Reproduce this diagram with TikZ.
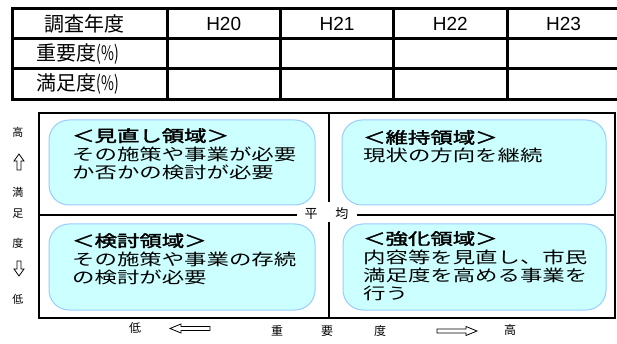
\documentclass[tikz,border=0pt]{standalone}
\usepackage{fontspec}
\usepackage{graphicx}
\setmainfont{Liberation Sans}
\newfontfamily\jp[AutoFakeBold=2]{Noto Sans CJK JP}
\definecolor{boxfill}{RGB}{204,255,255}
\definecolor{boxline}{RGB}{153,204,255}
\newcommand\zonetxt[1]{\scalebox{1.4}[1]{\jp\fontsize{16}{16.5}\selectfont\begin{tabular}{@{}l@{}}#1\end{tabular}}}
\newcommand\pct{\scalebox{0.7}[1]{(\%)}}
\begin{document}
\begin{tikzpicture}[x=1pt,y=-1pt,
  tbl/.style={line width=3pt},
  frameline/.style={line width=2pt},
  zone/.style={draw=boxline, fill=boxfill, line width=1pt, rounded corners=20pt},
  hdr/.style={font=\jp\fontsize{20}{20}\selectfont, inner sep=0pt},
  yr/.style={font=\fontsize{19}{19}\selectfont, inner sep=0pt},
  axl/.style={font=\jp\fontsize{11}{11}\selectfont, inner sep=0pt},
  bxl/.style={font=\jp\fontsize{12}{12}\selectfont, inner sep=0pt},
  ztext/.style={anchor=west, inner sep=0pt},
  harrow/.style={draw, line width=0.8pt, fill=white, line join=miter},
]
\useasboundingbox (0,0) rectangle (617,344);
% table
\draw[tbl] (620,9) -- (12,9) -- (12,100) -- (620,100);
\draw[tbl] (12,39) -- (620,39);
\draw[tbl] (12,69) -- (620,69);
\foreach \xx in {167,280.3,393.7,507} \draw[tbl] (\xx,9) -- (\xx,100);
\node[hdr] (h0) at (84,24) {調査年度};
\node[yr] (h1) at (223.7,24) {H20};
\node[yr] (h2) at (337,24) {H21};
\node[yr] (h3) at (450.3,24) {H22};
\node[yr] (h4) at (563.5,24) {H23};
\node[hdr] (r1) at (78,54) {重要度\pct};
\node[hdr] (r2) at (78,84.5) {満足度\pct};
% frame
\draw[frameline] (39,113) rectangle (615,318);
\node[font=\jp\fontsize{13}{13}\selectfont, inner sep=0pt] (avg) at (326.5,214) {平\hspace{18pt}均};
\draw[frameline] (39,215) -- (297,215);
\draw[frameline] (357,215) -- (615,215);
\draw[frameline] (329,113) -- (329,202);
\draw[frameline] (329,222) -- (329,318);
% zones
\draw[zone] (49,120) rectangle (315,205);
\draw[zone] (342,120) rectangle (606,205);
\draw[zone] (49,224) rectangle (315,310);
\draw[zone] (343,224) rectangle (606,310);
\node[ztext] (ztl) at (72,156) {\zonetxt{{\bfseries ＜見直し領域＞}\\その施策や事業が必要\\か否かの検討が必要}};
\node[ztext] (ztr) at (363,148.5) {\zonetxt{{\bfseries ＜維持領域＞}\\現状の方向を継続}};
\node[ztext] (zbl) at (72,261) {\zonetxt{{\bfseries ＜検討領域＞}\\その施策や事業の存続\\の検討が必要}};
\node[ztext] (zbr) at (363,268) {\zonetxt{{\bfseries ＜強化領域＞}\\内容等を見直し、市民\\満足度を高める事業を\\行う}};
% vertical axis
\node[axl] (v1) at (18,132) {高};
\node[axl] (v2) at (18,192) {満};
\node[axl] (v3) at (18,214) {足};
\node[axl] (v4) at (18,243) {度};
\node[axl] (v5) at (18,299) {低};
\draw[harrow] (19,154) -- (24,161) -- (21,161) -- (21,170) -- (17,170) -- (17,161) -- (14,161) -- cycle;
\draw[harrow] (17,261) -- (21,261) -- (21,269) -- (24,269) -- (19,276) -- (14,269) -- (17,269) -- cycle;
% horizontal axis
\node[bxl] (b1) at (135,328) {低};
\node[bxl] (b2) at (277,331) {重};
\node[bxl] (b3) at (327,331) {要};
\node[bxl] (b4) at (380,331) {度};
\node[bxl] (b5) at (510,330) {高};
\draw[harrow] (170,328.5) -- (181,324) -- (181,326.5) -- (210,326.5) -- (210,330.5) -- (181,330.5) -- (181,333) -- cycle;
\draw[harrow] (477,331) -- (466,326.5) -- (466,329) -- (437,329) -- (437,333) -- (466,333) -- (466,335.5) -- cycle;
\end{tikzpicture}
\end{document}
